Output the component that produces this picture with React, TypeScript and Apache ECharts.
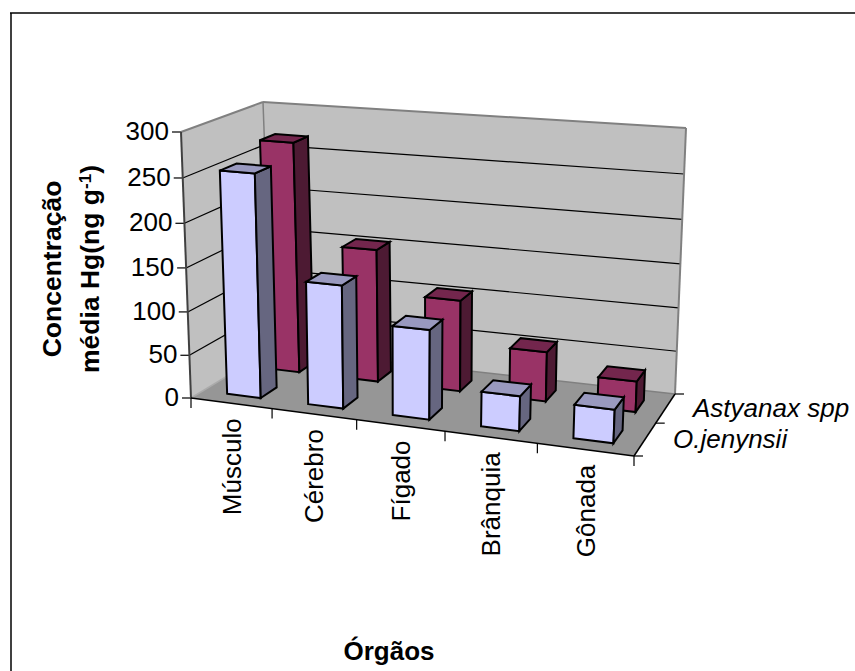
import React, { useEffect, useRef } from "react";
import * as echarts from "echarts";

const categories = ["Músculo", "Cérebro", "Fígado", "Brânquia", "Gônada"];
const astyanaxValues = [270, 155, 106, 57, 35];
const jenynsiiValues = [255, 140, 101, 39, 37];
const yTicks = [0, 50, 100, 150, 200, 250, 300];
const depthLabels = ["O.jenynsii", "Astyanax spp"];

const FONT = '"Liberation Sans", Arial, sans-serif';
const GRID = { left: 191, right: 634, top: 132, bottom: 398 };

// Corners of the 3D box in screen space
const C = {
  flb: [191, 398], flt: [181, 132],
  frb: [634, 456], frt: [646, 168],
  blb: [272, 349], blt: [263, 102],
  brb: [675, 394], brt: [686, 128],
};
const warp = (t: number, r: number) => t / (t + (1 - t) * r);
const lerp = (a: number, b: number, t: number) => a + (b - a) * t;
const lerp2 = (a: number[], b: number[], t: number) => [lerp(a[0], b[0], t), lerp(a[1], b[1], t)];

function projectAt(uWarped: number, v: number, wRaw: number): number[] {
  const w = warp(wRaw, 1.045);
  const b = lerp2(lerp2(C.flb, C.frb, uWarped), lerp2(C.blb, C.brb, uWarped), v);
  const t = lerp2(lerp2(C.flt, C.frt, uWarped), lerp2(C.blt, C.brt, uWarped), v);
  return lerp2(b, t, w);
}
const project = (uRaw: number, v: number, wRaw: number) => projectAt(warp(uRaw, 1.116), v, wRaw);

const poly = (points: number[][], fill: string, stroke: string, lineWidth: number) => ({
  type: "polygon",
  shape: { points },
  style: { fill, stroke, lineWidth, lineJoin: "miter" },
});
const line = (a: number[], b: number[], stroke: string, lineWidth = 1) => ({
  type: "line",
  shape: { x1: a[0], y1: a[1], x2: b[0], y2: b[1] },
  style: { stroke, lineWidth, fill: "none" },
});
const text = (s: string, x: number, y: number, fontSize: number, extra: any = {}, rotation = 0) => ({
  type: "text",
  x,
  y,
  rotation,
  style: {
    text: s,
    fill: "#000",
    fontSize,
    fontFamily: FONT,
    fontWeight: extra.fontWeight || "normal",
    fontStyle: extra.fontStyle || "normal",
    align: extra.align || "center",
    verticalAlign: "middle",
    textAlign: extra.align || "center",
    textVerticalAlign: "middle",
  },
});

function warpSlot(u0: number, u1: number): number[] {
  const a = warp(u0, 1.116), b = warp(u1, 1.116);
  return [lerp(a, b, 0.3), lerp(a, b, 0.72)];
}

function barRenderer(v0: number, v1: number, front: string, side: string, top: string) {
  return (_params: any, api: any) => {
    const i = api.value(0);
    const [cx, y1] = api.coord([i, api.value(1)]);
    const band = api.size([1, 0])[0];
    const [, y0] = api.coord([i, 0]);
    const h = y0 - GRID.top;
    const W = GRID.right - GRID.left;
    const slot = warpSlot((cx - band / 2 - GRID.left) / W, (cx + band / 2 - GRID.left) / W);
    const w = (y0 - y1) / h;
    const a = projectAt(slot[0], v0, 0), b = projectAt(slot[1], v0, 0), c = projectAt(slot[1], v1, 0);
    const at = projectAt(slot[0], v0, w), bt = projectAt(slot[1], v0, w);
    const ct = projectAt(slot[1], v1, w), dt = projectAt(slot[0], v1, w);
    return {
      type: "group",
      children: [
        poly([a, b, bt, at], front, "#000", 2),
        poly([b, c, ct, bt], side, "#000", 2),
        poly([at, bt, ct, dt], top, "#000", 2),
      ],
    };
  };
}

function frameRenderer() {
  const els: any[] = [];
  const wallEdge = "#808080";
  els.push(poly([C.flb, C.flt, C.blt, C.blb], "#C0C0C0", "none", 0));
  els.push(poly([C.blb, C.blt, C.brt, C.brb], "#C0C0C0", "none", 0));
  els.push(poly([C.flb, C.blb, C.brb, C.frb], "#969696", "none", 0));
  for (const t of yTicks) {
    const wv = t / 300;
    const a = project(0, 0, wv), b = project(0, 1, wv), c = project(1, 1, wv);
    if (t > 0 && t < 300) {
      els.push(line(a, b, "#000", 1.2), line(b, c, "#000", 1.2));
    }
    els.push(line([a[0] - 9, a[1]], a, "#000", 1.2));
    els.push(text(String(t), a[0] - 12, a[1] - 1, 26, { align: "right" }));
  }
  els.push(line(C.blt, C.brt, wallEdge, 2), line(C.brt, C.brb, wallEdge, 2));
  els.push(line(C.flt, C.blt, wallEdge, 2), line(C.blt, C.blb, wallEdge, 1.5));
  els.push(line(C.flb, C.blb, "#aaaaaa", 1.5), line(C.blb, C.brb, "#808080", 1.5));
  els.push(line(C.flt, C.flb, "#404040", 2));
  els.push(line(C.flb, C.frb, "#000", 1.5), line(C.frb, C.brb, "#000", 1.5));
  categories.forEach((name, i) => {
    const p = project(i / 5, 0, 0);
    els.push(line(p, [p[0], p[1] + 10], "#000", 1.2));
    const m = projectAt(lerp(warp(i / 5, 1.116), warp((i + 1) / 5, 1.116), 0.5), 0, 0);
    els.push(text(name, m[0], m[1] + 15, 26, { align: "right" }, Math.PI / 2));
  });
  const fr = project(1, 0, 0);
  els.push(line(fr, [fr[0], fr[1] + 10], "#000", 1.2));
  const depthMid = projectAt(1, 0.53, 0);
  els.push(line(fr, [fr[0] + 9, fr[1]], "#000", 1.2));
  els.push(line(depthMid, [depthMid[0] + 9, depthMid[1]], "#000", 1.2));
  els.push(line(C.brb, [C.brb[0] + 9, C.brb[1]], "#000", 1.2));
  els.push(text(depthLabels[0], 673, 439, 26, { align: "left", fontStyle: "italic" }));
  els.push(text(depthLabels[1], 693, 408, 26, { align: "left", fontStyle: "italic" }));
  return { type: "group", children: els };
}

export default function App() {
  const ref = useRef<HTMLDivElement>(null);
  useEffect(() => {
    document.body.style.margin = "0";
    const chart = echarts.init(ref.current!, undefined, { renderer: "svg" });
    chart.setOption({
      animation: false,
      backgroundColor: "#fff",
      grid: {
        left: GRID.left,
        top: GRID.top,
        width: GRID.right - GRID.left,
        height: GRID.bottom - GRID.top,
      },
      xAxis: { type: "category", data: categories, show: false },
      yAxis: { type: "value", min: 0, max: 300, interval: 50, show: false },
      graphic: [
        { type: "line", shape: { x1: 10, y1: 13, x2: 855, y2: 13 }, style: { stroke: "#000", lineWidth: 1.5 }, z: 0 },
        { type: "line", shape: { x1: 11, y1: 13, x2: 11, y2: 671 }, style: { stroke: "#000", lineWidth: 1.5 }, z: 0 },
        {
          type: "text", x: 52, y: 269, rotation: Math.PI / 2, z: 10,
          style: { text: "Concentração", fill: "#000", font: `bold 26.5px ${FONT}`, align: "center", verticalAlign: "middle" },
        },
        {
          type: "text", x: 90, y: 269, rotation: Math.PI / 2, z: 10,
          style: {
            text: "{a|média Hg(ng g}{s|-1}{a|)}",
            align: "center",
            verticalAlign: "middle",
            rich: {
              a: { font: `bold 26.5px ${FONT}`, fill: "#000" },
              s: { font: `bold 17px ${FONT}`, fill: "#000", verticalAlign: "top" },
            },
          },
        },
        {
          type: "text", x: 389, y: 651, z: 10,
          style: { text: "Órgãos", fill: "#000", font: `bold 26px ${FONT}`, align: "center", verticalAlign: "middle" },
        },
      ],
      series: [
        { type: "custom", name: "frame", data: [[0, 0]], renderItem: frameRenderer, clip: false, z: 1, silent: true },
        {
          type: "custom", name: "Astyanax spp", clip: false, z: 2,
          data: astyanaxValues.map((v, i) => [i, v]),
          renderItem: barRenderer(0.66, 0.85, "#993366", "#4D1A33", "#73264D"),
        },
        {
          type: "custom", name: "O.jenynsii", clip: false, z: 3,
          data: jenynsiiValues.map((v, i) => [i, v]),
          renderItem: barRenderer(0.15, 0.36, "#CCCCFF", "#666680", "#9999BF"),
        },
      ],
    });
    return () => chart.dispose();
  }, []);
  return <div ref={ref} style={{ position: "absolute", left: 0, top: 0, width: 855, height: 671 }} />;
}
